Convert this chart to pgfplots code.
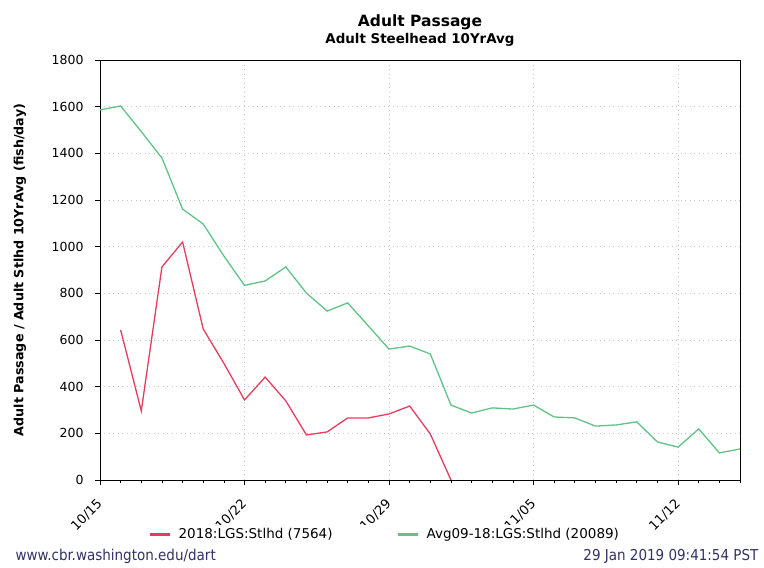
\documentclass[border=0pt]{standalone}
\usepackage{pgfplots}
\pgfplotsset{compat=1.18}
\usepackage{fontspec}
\setmainfont{DejaVu Sans}
\newfontfamily\cond{DejaVu Sans Condensed}
\definecolor{redline}{RGB}{230,60,95}
\definecolor{greenline}{RGB}{95,195,135}
\definecolor{footer}{RGB}{50,50,100}

\begin{document}
\begin{tikzpicture}[x=1pt,y=1pt]
\begin{axis}[
    name=main,
    scale only axis,
    width=640pt, height=420pt,
    xmin=0, xmax=31,
    ymin=0, ymax=1800,
    xtick={0,7,14,21,28},
    xticklabels={10/15,10/22,10/29,11/05,11/12},
    minor xtick={0,...,31},
    ytick={0,200,...,1800},
    tick align=outside,
    tick pos=left,
    major tick length=5pt,
    minor tick length=3pt,
    grid=major,
    major grid style={gray!45, dash pattern=on 1pt off 3.5pt},
    axis line style={black, line width=0.9pt},
    tick style={black, line width=0.7pt},
    x tick label style={yshift=-8pt, xshift=-4pt, rotate=45, anchor=north east, font=\fontsize{13}{13}\selectfont},
    y tick label style={xshift=-8pt, font=\fontsize{12.5}{12.5}\selectfont},
    /pgf/number format/assume math mode=true,
    /pgf/number format/1000 sep={},
    ylabel={Adult Passage / Adult Stlhd 10YrAvg (fish/day)},
    every axis y label/.style={at={(-80pt,0.5)}, rotate=90, anchor=center, font=\bfseries\fontsize{12.7}{12.7}\selectfont},
    title={\fontsize{15.5}{17}\selectfont\bfseries Adult Passage\\[3pt]\fontsize{13.4}{14}\selectfont\bfseries Adult Steelhead 10YrAvg},
    every axis title/.style={at={(0.5,1)}, anchor=south, yshift=10pt, align=center},
    legend style={at={(0.445,-0.13)}, anchor=center, draw=none, legend columns=2,
        font=\fontsize{13.5}{13.5}\selectfont,
        /tikz/every odd column/.append style={column sep=5pt},
        /tikz/every even column/.append style={column sep=62pt}},
    legend image code/.code={\draw[#1, line width=3pt] (0pt,0pt) -- (20pt,0pt);},
]
\addplot[redline, line width=1.3pt] coordinates {
(1,643) (2,296) (3,913) (4,1020) (5,647) (6,500) (7,343) (8,441) (9,339)
(10,193) (11,206) (12,266) (13,266) (14,283) (15,317) (16,197) (17,0)
};
\addlegendentry{2018:LGS:Stlhd (7564)}
\addplot[greenline, line width=1.3pt] coordinates {
(0,1586) (1,1603) (2,1493) (3,1380) (4,1161) (5,1097) (6,960) (7,834) (8,853)
(9,913) (10,801) (11,724) (12,759) (13,660) (14,561) (15,574) (16,540)
(17,321) (18,287) (19,309) (20,304) (21,321) (22,270) (23,266) (24,231)
(25,236) (26,249) (27,163) (28,141) (29,219) (30,116) (31,133)
};
\addlegendentry{Avg09-18:LGS:Stlhd (20089)}
\end{axis}
\path (main.south west) ++(-100pt,-85pt) coordinate (pic);
\path (pic) rectangle ++(764pt,565pt);
\node[anchor=base west, text=footer, font=\cond\fontsize{15}{15}\selectfont] at ([shift={(12pt,4pt)}]pic) {www.cbr.washington.edu/dart};
\node[anchor=base east, text=footer, font=\cond\fontsize{15}{15}\selectfont] at ([shift={(762pt,4pt)}]pic) {29 Jan 2019 09:41:54 PST};
\end{tikzpicture}
\end{document}
